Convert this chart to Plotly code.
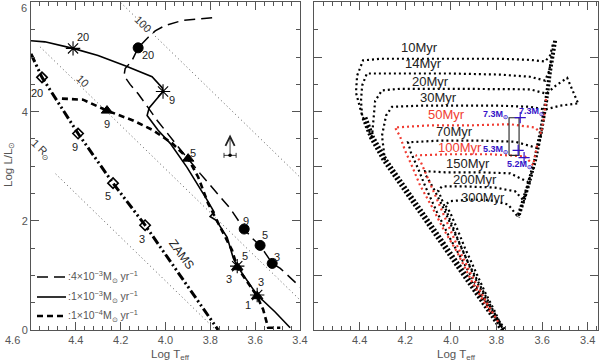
import plotly.graph_objects as go

# ================= LEFT PANEL: tracks (log Teff, log L/Lsun) =================
trk4e3_T = [3.792, 3.926, 4.002, 4.046, 4.078, 4.122, 4.149, 4.180, 4.185, 4.158, 4.122, 4.037,
            3.948, 3.846, 3.712, 3.676, 3.649, 3.613, 3.578, 3.555, 3.524, 3.488, 3.421, 3.399]
trk4e3_L = [5.72, 5.67, 5.58, 5.48, 5.36, 5.17, 4.94, 4.79, 4.66, 4.50, 4.33, 3.84,
            3.38, 2.87, 2.23, 2.01, 1.85, 1.68, 1.55, 1.41, 1.22, 1.13, 0.88, 0.79]

trk1e3_T = [4.600, 4.538, 4.4125, 4.301, 4.180, 4.060, 4.015, 4.011, 4.046, 4.073, 4.082, 4.033,
            3.979, 3.904, 3.814, 3.783, 3.801, 3.774, 3.725, 3.698, 3.680, 3.591, 3.511, 3.444]
trk1e3_L = [5.30, 5.28, 5.16, 5.03, 4.84, 4.64, 4.44, 4.37, 4.20, 4.07, 3.93, 3.66,
            3.42, 2.98, 2.38, 2.16, 2.08, 2.01, 1.70, 1.32, 1.17, 0.64, 0.33, 0.04]

trk1e4_T = [4.462, 4.368, 4.261, 4.145, 4.055, 3.970, 3.899, 3.854, 3.810, 3.747, 3.703, 3.680,
            3.591, 3.564, 3.542, 3.488]
trk1e4_L = [4.24, 4.22, 4.02, 3.84, 3.66, 3.42, 3.14, 2.80, 2.32, 1.83, 1.46, 1.15,
            0.62, 0.37, 0.04, 0.04]

zams_T = [4.600, 4.551, 4.390, 4.234, 4.091, 3.765]
zams_L = [5.06, 4.63, 3.60, 2.69, 1.92, 0.00]

# constant-radius lines (end points)
r1_T, r1_L = [4.49, 3.775], [2.86, 0.00]
r10_T, r10_L = [4.56, 3.40], [5.19, 0.55]
r100_T, r100_L = [4.20, 3.40], [6.00, 2.80]

# markers on tracks, with masses
circ_T = [4.122, 3.649, 3.578, 3.524]; circ_L = [5.17, 1.85, 1.55, 1.22]
circ_lab = ["20", "9", "5", "3"]
circ_labT = [4.078, 3.640, 3.555, 3.502]; circ_labL = [5.03, 1.99, 1.74, 1.33]

star_T = [4.4125, 4.011, 3.680, 3.591]; star_L = [5.16, 4.37, 1.17, 0.64]
star_lab = ["20", "9", "5", "3"]
star_labT = [4.368, 3.971, 3.645, 3.573]; star_labL = [5.36, 4.22, 1.35, 0.88]

tri_T = [4.261, 3.899, 3.680, 3.591]; tri_L = [4.02, 3.14, 1.15, 0.62]
tri_lab = ["9", "5", "3", "1"]
tri_labT = [4.261, 3.877, 3.716, 3.631]; tri_labL = [3.77, 3.24, 0.93, 0.46]

diam_T = [4.551, 4.390, 4.234, 4.091]; diam_L = [4.63, 3.60, 2.69, 1.92]
diam_lab = ["20", "9", "5", "3"]
diam_labT = [4.573, 4.404, 4.256, 4.104]; diam_labL = [4.35, 3.35, 2.45, 1.66]

# ================= RIGHT PANEL: isochrones =================
ms_T = [3.771, 3.850, 3.960, 4.091, 4.223, 4.289, 4.346, 4.380]
ms_L = [0.00, 0.49, 1.13, 1.92, 2.69, 3.11, 3.53, 3.90]

rgb_T = [3.543, 3.565, 3.582, 3.604, 3.631, 3.661, 3.705]
rgb_L = [5.30, 4.75, 4.20, 3.66, 3.11, 2.65, 2.07]

iso10_T = [4.346, 4.389, 4.416, 4.411, 4.385, 4.311, 4.135, 3.960, 3.784, 3.653, 3.587, 3.565, 3.552]
iso10_L = [3.53, 3.93, 4.35, 4.66, 4.94, 4.97, 4.97, 4.97, 4.97, 4.95, 4.92, 5.03, 5.25]
iso14_T = [4.389, 4.394, 4.389, 4.368, 4.223, 4.004, 3.784, 3.653, 3.587, 3.569, 3.556]
iso14_L = [3.93, 4.20, 4.48, 4.70, 4.70, 4.70, 4.68, 4.64, 4.57, 4.75, 5.03]
iso20_T = [4.346, 4.341, 4.332, 4.302, 4.223, 4.004, 3.784, 3.653, 3.582, 3.539, 3.490, 3.468, 3.442]
iso20_L = [3.53, 3.84, 4.20, 4.39, 4.42, 4.42, 4.42, 4.41, 4.33, 4.48, 4.62, 4.39, 4.15]
iso30_T = [4.289, 4.302, 4.284, 4.258, 4.135, 3.960, 3.784, 3.653, 3.587, 3.521, 3.446]
iso30_L = [3.11, 3.56, 3.93, 4.09, 4.11, 4.11, 4.11, 4.09, 4.04, 4.11, 4.15]
iso50_T = [3.828, 3.907, 3.973, 4.034, 4.082, 4.135, 4.170, 4.201, 4.223, 4.245, 4.091, 3.916, 3.740, 3.631, 3.604, 3.591, 3.582]
iso50_L = [0.33, 0.88, 1.43, 1.86, 2.25, 2.65, 3.00, 3.29, 3.55, 3.71, 3.75, 3.75, 3.77, 3.71, 3.60, 3.93, 4.26]
iso70_T = [3.806, 3.872, 3.938, 4.004, 4.061, 4.109, 4.144, 4.175, 4.188, 4.047, 3.872, 3.718, 3.618, 3.600]
iso70_L = [0.22, 0.69, 1.19, 1.68, 2.16, 2.60, 2.96, 3.25, 3.44, 3.47, 3.47, 3.45, 3.33, 3.69]
iso100_T = [3.793, 3.850, 3.916, 3.973, 4.021, 4.065, 4.100, 4.131, 4.153, 4.004, 3.828, 3.675, 3.639, 3.622]
iso100_L = [0.15, 0.55, 1.06, 1.55, 2.01, 2.43, 2.78, 3.07, 3.20, 3.22, 3.22, 3.18, 3.02, 3.38]
iso150_T = [3.784, 3.837, 3.894, 3.946, 3.995, 4.039, 4.078, 4.109, 4.113, 4.025, 3.872, 3.740, 3.661, 3.639]
iso150_L = [0.09, 0.49, 0.95, 1.43, 1.86, 2.29, 2.61, 2.83, 2.91, 2.89, 2.89, 2.87, 2.71, 2.96]
iso200_T = [3.775, 3.819, 3.872, 3.925, 3.968, 4.008, 4.039, 4.056, 4.039, 3.938, 3.806, 3.718, 3.683, 3.661]
iso200_L = [0.04, 0.40, 0.82, 1.24, 1.65, 2.05, 2.38, 2.56, 2.63, 2.63, 2.61, 2.54, 2.38, 2.69]
iso300_T = [3.771, 3.806, 3.850, 3.894, 3.938, 3.973, 4.004, 4.025, 4.004, 3.916, 3.828, 3.749, 3.705, 3.679, 3.653]
iso300_L = [0.00, 0.33, 0.69, 1.10, 1.50, 1.86, 2.16, 2.29, 2.36, 2.39, 2.38, 2.30, 2.07, 2.38, 2.74]

age_lab = ["10Myr", "14Myr", "20Myr", "30Myr", "50Myr", "70Myr", "100Myr", "150Myr", "200Myr", "300Myr"]
age_labT = [4.139, 4.122, 4.091, 4.056, 4.021, 3.982, 3.960, 3.925, 3.894, 3.859]
age_labL = [5.17, 4.88, 4.55, 4.26, 3.95, 3.64, 3.35, 3.05, 2.76, 2.43]
age_red = [False, False, False, False, True, False, True, False, False, False]

box_T = [3.745, 3.701, 3.701, 3.745, 3.745]
box_L = [3.20, 3.20, 3.89, 3.89, 3.20]
mass_lab = ["7.3M<sub>⊙</sub>", "7.3M<sub>⊙</sub>", "5.3M<sub>⊙</sub>", "5.2M<sub>⊙</sub>"]
mass_labT = [3.806, 3.648, 3.806, 3.700]
mass_labL = [3.95, 4.00, 3.31, 3.03]
cross_T = [3.696, 3.705, 3.679]
cross_L = [3.89, 3.29, 3.16]

y_ticks = [0, 2, 4, 6]
y_ticktext = ["0", "2", "4", ""]   # the top label "6" is placed as text just below its tick

BLACK = "#000000"
RED = "#f03c32"
BLUE = "#3412c8"
GREY = "#555555"
FONT = "Liberation Sans"

fig = go.Figure()

def line(x, y, xa, ya, color=BLACK, width=1.5, dash="solid"):
    fig.add_trace(go.Scatter(x=x, y=y, xaxis=xa, yaxis=ya, mode="lines",
                             line=dict(color=color, width=width, dash=dash),
                             showlegend=False, hoverinfo="skip"))

# radius lines
for xs, ys in [(r1_T, r1_L), (r10_T, r10_L), (r100_T, r100_L)]:
    line(xs, ys, "x", "y", color="#444444", width=0.9, dash="1px,3px")

line(zams_T, zams_L, "x", "y", width=3, dash="9px,3px,2px,3px,2px,3px")
line(trk4e3_T, trk4e3_L, "x", "y", width=1.5, dash="11px,6px")
line(trk1e3_T, trk1e3_L, "x", "y", width=1.6)
line(trk1e4_T, trk1e4_L, "x", "y", width=2.6, dash="6px,4px")

def markers(x, y, symbol, size, lw=1.0):
    fig.add_trace(go.Scatter(x=x, y=y, xaxis="x", yaxis="y", mode="markers",
                             marker=dict(symbol=symbol, size=size, color=BLACK,
                                         line=dict(color=BLACK, width=lw)),
                             showlegend=False, hoverinfo="skip"))

markers(circ_T, circ_L, "circle", 10)
markers(star_T, star_L, "asterisk-open", 12, 1.1)
markers(tri_T, tri_L, "triangle-up", 10)
markers(diam_T, diam_L, "diamond-open", 8, 1.6)

annotations = []
def txt(x, y, s, xref="x", yref="y", size=11, color="#222222", angle=0, xanchor="center",
        yanchor="middle", family=FONT):
    annotations.append(dict(x=x, y=y, xref=xref, yref=yref, text=s, showarrow=False,
                            font=dict(family=family, size=size, color=color),
                            textangle=angle, xanchor=xanchor, yanchor=yanchor))

for T, L, s in zip(circ_labT + star_labT + tri_labT + diam_labT,
                   circ_labL + star_labL + tri_labL + diam_labL,
                   circ_lab + star_lab + tri_lab + diam_lab):
    txt(T, L, s, size=11)

txt(4.555, 3.29, "1 R<sub>⊙</sub>", angle=44, size=11, color="#333333")
txt(4.368, 4.57, "10", angle=44, size=11, color="#333333")
txt(4.100, 5.61, "100", angle=44, size=11, color="#333333")
txt(3.930, 1.39, "ZAMS", angle=54, size=12, color="#222222")

# lower-limit arrow with error bar
annotations.append(dict(x=3.712, y=3.58, ax=3.712, ay=3.20, xref="x", yref="y", axref="x", ayref="y",
                        text="", showarrow=True, arrowhead=5, arrowsize=2.0, arrowwidth=0.9,
                        arrowcolor="#222222"))
fig.add_trace(go.Scatter(x=[3.712], y=[3.20], xaxis="x", yaxis="y", mode="markers",
                         marker=dict(size=3.5, color=BLACK),
                         error_x=dict(type="constant", value=0.027, thickness=0.9, width=2.5, color="#222222"),
                         showlegend=False, hoverinfo="skip"))

# ---- right panel ----
DOT = "2px,3px"
line(ms_T, ms_L, "x2", "y2", width=6, dash="2px,2px")
line(rgb_T, rgb_L, "x2", "y2", width=4, dash="2px,2px")
for xs, ys, red in [(iso10_T, iso10_L, False), (iso14_T, iso14_L, False), (iso20_T, iso20_L, False),
                    (iso30_T, iso30_L, False), (iso70_T, iso70_L, False), (iso150_T, iso150_L, False),
                    (iso200_T, iso200_L, False), (iso300_T, iso300_L, False),
                    (iso50_T, iso50_L, True), (iso100_T, iso100_L, True)]:
    line(xs, ys, "x2", "y2", color=RED if red else BLACK, width=2.2, dash=DOT)

line(box_T, box_L, "x2", "y2", color="#222222", width=1.1)
fig.add_trace(go.Scatter(x=cross_T, y=cross_L, xaxis="x2", yaxis="y2", mode="markers",
                         marker=dict(symbol="cross-thin-open", size=8, color=BLUE,
                                     line=dict(color=BLUE, width=1.2)),
                         showlegend=False, hoverinfo="skip"))

for T, L, s, red in zip(age_labT, age_labL, age_lab, age_red):
    txt(T, L, s, xref="x2", yref="y2", size=13, color=RED if red else "#222222")
for T, L, s in zip(mass_labT, mass_labL, mass_lab):
    txt(T, L, "<b>" + s + "</b>", xref="x2", yref="y2", size=9, color=BLUE)

# ---- legend (left panel) ----
shapes = []
leg_dash = [("11px,6px", 1.5), ("solid", 1.6), ("6px,4px", 2.6)]
leg_text = [":4×10<sup>−3</sup>M<sub>⊙</sub> yr<sup>−1</sup>",
            ":1×10<sup>−3</sup>M<sub>⊙</sub> yr<sup>−1</sup>",
            ":1×10<sup>−4</sup>M<sub>⊙</sub> yr<sup>−1</sup>"]
leg_ypx = [277, 297, 316]
for (d, w), s, yp in zip(leg_dash, leg_text, leg_ypx):
    yy = (364 - yp) / 364
    shapes.append(dict(type="line", xref="paper", yref="paper", x0=37 / 600, x1=66 / 600, y0=yy, y1=yy,
                       line=dict(color=BLACK, width=w, dash=d)))
    txt(66 / 600, yy, s, xref="paper", yref="paper", size=10.5, color="#555555", xanchor="left")

# axis titles and top y label
txt(170 / 600, (364 - 355) / 364, "Log T<sub>eff</sub>", xref="paper", yref="paper", size=11.5, color=GREY)
txt(456 / 600, (364 - 355) / 364, "Log T<sub>eff</sub>", xref="paper", yref="paper", size=11.5, color=GREY)
txt(9 / 600, (364 - 165) / 364, "Log L/L<sub>⊙</sub>", xref="paper", yref="paper", size=11.5, color=GREY, angle=-90)
txt(24 / 600, (364 - 8) / 364, "6", xref="paper", yref="paper", size=11, color=GREY)

ydom = [34 / 364, 362 / 364]
common = dict(showgrid=False, zeroline=False, showline=True, linecolor="#555555", linewidth=1,
              mirror="allticks", ticks="inside", ticklen=8, tickwidth=1, tickcolor="#555555",
              tickfont=dict(family=FONT, size=11, color=GREY), automargin=False)

FS = "\u2007"
fig.update_layout(
    width=600, height=364, margin=dict(l=0, r=0, t=0, b=0),
    paper_bgcolor="white", plot_bgcolor="white", showlegend=False,
    xaxis=dict(domain=[31 / 600, 300 / 600], range=[4.6, 3.4], tickvals=[4.6, 4.4, 4.2, 4.0, 3.8, 3.6, 3.4],
               ticktext=["4.6" + FS * 6, "4.4", "4.2", "4.0", "3.8", "3.6", "3.4"],
               minor=dict(dtick=0.04, ticklen=4, ticks="inside", tickcolor="#555555"), **common),
    yaxis=dict(domain=ydom, range=[0, 6.01], tickvals=y_ticks, ticktext=y_ticktext,
               minor=dict(dtick=0.5, ticklen=4, ticks="inside", tickcolor="#555555"), **common),
    xaxis2=dict(domain=[314 / 600, 598 / 600], range=[4.6, 3.355], anchor="y2",
                tickvals=[4.4, 4.2, 4.0, 3.8, 3.6, 3.4], ticktext=["4.4", "4.2", "4.0", "3.8", "3.6", "3.4"],
                minor=dict(dtick=0.04, tick0=4.6, ticklen=4, ticks="inside", tickcolor="#555555"), **common),
    yaxis2=dict(domain=ydom, range=[0, 6.01], anchor="x2", tickvals=[0, 1, 2, 3, 4, 5, 6], showticklabels=False,
                minor=dict(dtick=0.5, ticklen=4, ticks="inside", tickcolor="#555555"), **common),
    annotations=annotations, shapes=shapes,
)

fig.write_html("out.html", config={"displayModeBar": False},
               post_script="document.body.style.margin='0px';document.body.style.overflow='hidden';")
